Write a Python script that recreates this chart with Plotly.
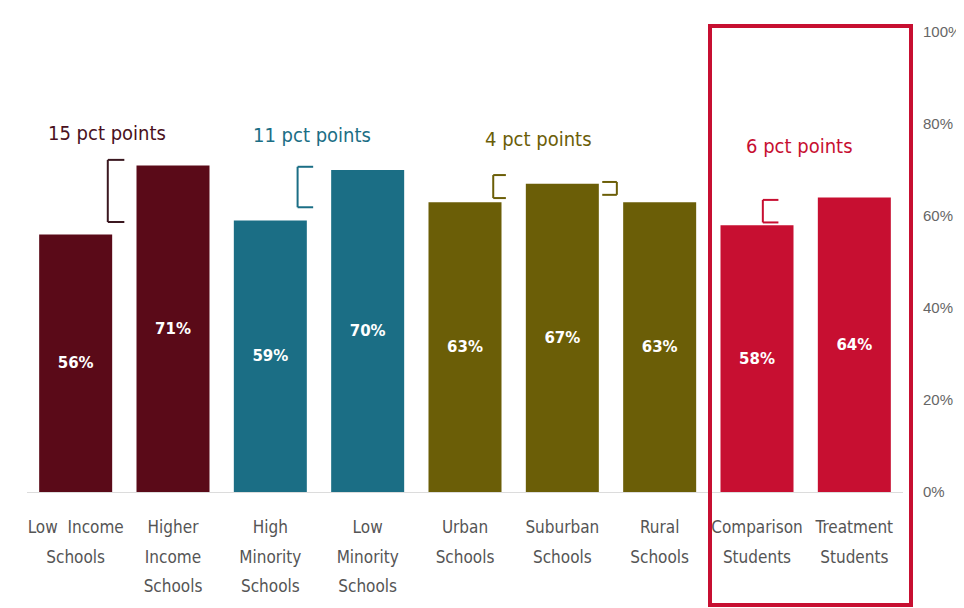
import plotly.graph_objects as go

# ---- data ----
categories = ["Low  Income<br>Schools", "Higher<br>Income<br>Schools", "High<br>Minority<br>Schools",
              "Low<br>Minority<br>Schools", "Urban<br>Schools", "Suburban<br>Schools",
              "Rural<br>Schools", "Comparison<br>Students", "Treatment<br>Students"]
values = [56, 71, 59, 70, 63, 67, 63, 58, 64]
value_labels = [f"{v}%" for v in values]
gap_labels = ["15 pct points", "11 pct points", "4 pct points", "6 pct points"]
tick_vals = [0, 20, 40, 60, 80, 100]
tick_text = ["0%", "20%", "40%", "60%", "80%", "100%"]

# ---- styles ----
MAROON = "#5a0a18"
TEAL = "#1b6e85"
OLIVE = "#6b5e07"
CRIMSON = "#c70f31"
bar_colors = [MAROON, MAROON, TEAL, TEAL, OLIVE, OLIVE, OLIVE, CRIMSON, CRIMSON]
COND = "DejaVu Sans Condensed, DejaVu Sans, sans-serif"

OFF = 8  # page body margin
W, H = 964 - OFF, 608 - OFF
ML, MR, MT, MB = 19, 61, 24, 116
pw = W - ML - MR
ph = H - MT - MB


def px(x):
    return (x - OFF - ML) / pw


def py(y):
    return (H - MB - (y - OFF)) / ph


tick_labels = ["<br>".join(f"<span style='font-size:17px'>{part}</span>" for part in c.split("<br>"))
               for c in categories]

fig = go.Figure(go.Bar(
    x=list(range(len(categories))), y=values, marker=dict(color=bar_colors, line=dict(width=0)),
    text=value_labels, textposition="inside", insidetextanchor="middle",
    textfont=dict(family="DejaVu Sans", size=15, color="white", weight="bold"),
    textangle=0, hoverinfo="skip",
))

shapes = []
# red highlight box
shapes.append(dict(type="rect", xref="paper", yref="paper", x0=px(710), x1=px(911), y0=py(605), y1=py(26),
                   line=dict(color=CRIMSON, width=4)))

# brackets: (x_left, x_right, y_bottom, y_top, open side, colour)
brackets = [
    (0.33, 0.50, 58.7, 72.2, "right", "#3b1820"),
    (2.28, 2.44, 61.9, 70.7, "right", TEAL),
    (4.29, 4.42, 63.9, 68.9, "right", OLIVE),
    (5.41, 5.56, 64.6, 67.4, "left", OLIVE),
    (7.06, 7.22, 58.6, 63.5, "right", CRIMSON),
]
for xl, xr, yb, yt, side, col in brackets:
    xv = xl if side == "right" else xr
    ln = dict(color=col, width=2)
    shapes.append(dict(type="line", xref="x", yref="y", x0=xv, x1=xv, y0=yb, y1=yt, line=ln))
    shapes.append(dict(type="line", xref="x", yref="y", x0=xl, x1=xr, y0=yt, y1=yt, line=ln))
    shapes.append(dict(type="line", xref="x", yref="y", x0=xl, x1=xr, y0=yb, y1=yb, line=ln))

ann_pos = [(0.32, 78.0, "#4a1020"), (2.43, 77.6, TEAL), (4.75, 76.7, OLIVE), (7.44, 75.2, CRIMSON)]
annotations = []
for (ax, ay, col), txt in zip(ann_pos, gap_labels):
    annotations.append(dict(x=ax, y=ay, xref="x", yref="y", text=txt, showarrow=False,
                            font=dict(family=COND, size=20, color=col)))

fig.update_layout(
    width=W, height=H, margin=dict(l=ML, r=MR, t=MT, b=MB, autoexpand=False),
    paper_bgcolor="white", plot_bgcolor="white", showlegend=False,
    bargap=0.25, shapes=shapes, annotations=annotations,
    xaxis=dict(range=[-0.5, len(categories) - 0.5], tickvals=list(range(len(categories))),
               ticktext=tick_labels,
               showgrid=False, zeroline=False, showline=True, linecolor="#dcdcdc", linewidth=1,
               ticks="outside", ticklen=12, tickcolor="rgba(0,0,0,0)",
               tickfont=dict(family=COND, size=23, color="#555555"),
               tickangle=0, fixedrange=True),
    yaxis=dict(side="right", range=[0, 100], tickvals=tick_vals, ticktext=tick_text,
               showgrid=False, zeroline=False, showline=False,
               ticks="outside", ticklen=16, tickcolor="rgba(0,0,0,0)",
               tickfont=dict(family="Liberation Sans", size=15, color="#666666")),
)

fig.write_html("out.html")
